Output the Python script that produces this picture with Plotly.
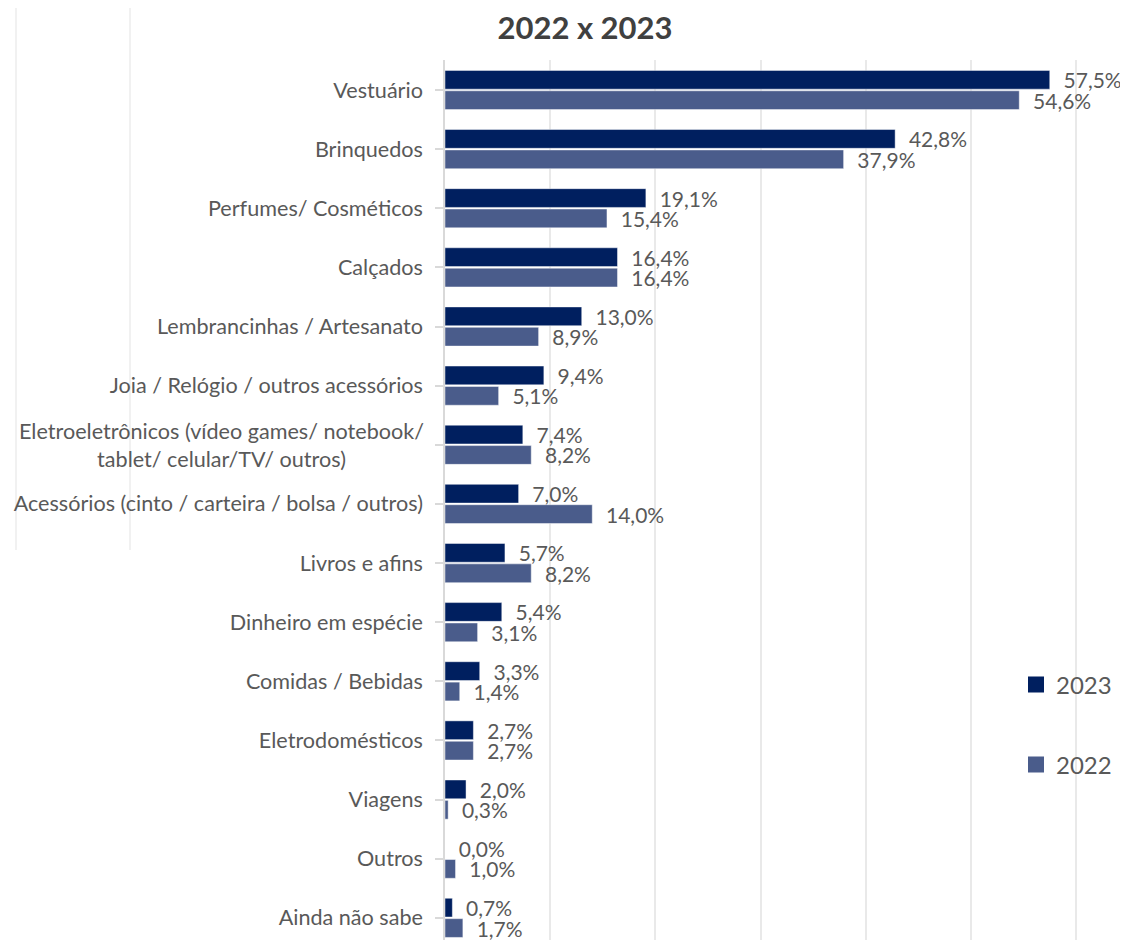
import plotly.graph_objects as go

categories = [
    "Vestuário",
    "Brinquedos",
    "Perfumes/ Cosméticos",
    "Calçados",
    "Lembrancinhas / Artesanato",
    "Joia / Relógio / outros acessórios",
    "Eletroeletrônicos (vídeo games/ notebook/<br>tablet/ celular/TV/ outros)",
    "Acessórios (cinto / carteira / bolsa / outros)",
    "Livros e afins",
    "Dinheiro em espécie",
    "Comidas / Bebidas",
    "Eletrodomésticos",
    "Viagens",
    "Outros",
    "Ainda não sabe",
]
values_2023 = [57.5, 42.8, 19.1, 16.4, 13.0, 9.4, 7.4, 7.0, 5.7, 5.4, 3.3, 2.7, 2.0, 0.0, 0.7]
values_2022 = [54.6, 37.9, 15.4, 16.4, 8.9, 5.1, 8.2, 14.0, 8.2, 3.1, 1.4, 2.7, 0.3, 1.0, 1.7]
series_names = ["2023", "2022"]
x_gridlines = [10, 20, 30, 40, 50, 60]

C2023 = "#001F5F"
C2022 = "#4A5C8B"
FONT = "Lato"
GREY = "#595959"

# page has an 8px body margin; coordinates below are figure pixels
L, R, T, B = 437, 0, 52, 0
W, H = 1128, 940
PW, PH = W - L - R, H - T - B

def fmt(v):
    return "\u00a0\u00a0" + f"{v:.1f}".replace(".", ",") + "%"

ids = list(range(len(categories)))
tick_text = [c if "<br>" not in c else "" for c in categories]

fig = go.Figure()
for name, vals, col in [(series_names[0], values_2023, C2023), (series_names[1], values_2022, C2022)]:
    fig.add_trace(go.Bar(
        y=ids, x=vals, orientation="h", name=name, showlegend=False,
        marker=dict(color=col, line=dict(color="rgba(255,255,255,0.45)", width=1)),
        text=[fmt(v) for v in vals], textposition="outside",
        textfont=dict(family=FONT, size=21, color=GREY), constraintext="none",
        cliponaxis=False,
    ))
# legend entries
fig.add_trace(go.Scatter(x=[None], y=[None], mode="markers", name=series_names[0],
                         marker=dict(symbol="square", size=16, color=C2023), legend="legend"))
fig.add_trace(go.Scatter(x=[None], y=[None], mode="markers", name=series_names[1],
                         marker=dict(symbol="square", size=16, color=C2022), legend="legend2"))

annotations = []
for i, c in enumerate(categories):
    if "<br>" in c:
        annotations.append(dict(
            x=0, xref="paper", xanchor="right", xshift=-19,
            y=i, yref="y", yanchor="middle", text=c, showarrow=False, align="center",
            font=dict(family=FONT, size=21.6, color=GREY),
        ))

def px_to_paper_x(px):
    return (px - L) / PW

def px_to_paper_y(py):
    return (H - B - py) / PH

shapes = []
for xp in [8, 122]:
    fx = px_to_paper_x(xp)
    shapes.append(dict(type="line", xref="paper", yref="paper", x0=fx, x1=fx,
                       y0=px_to_paper_y(0), y1=px_to_paper_y(542),
                       line=dict(color="#EDEDED", width=1.5), layer="below"))

fig.update_layout(
    width=W, height=H,
    margin=dict(l=L, r=R, t=T, b=B, autoexpand=False),
    paper_bgcolor="white", plot_bgcolor="white",
    barmode="group", bargap=0.31, bargroupgap=0.08,
    title=dict(text="<b>2022 x 2023</b>", x=577 / W, xanchor="center",
               y=1 - 20 / H, yanchor="middle", xref="container", yref="container",
               font=dict(family=FONT, size=31, color="#404040")),
    font=dict(family=FONT, color=GREY),
    xaxis=dict(range=[0, 65.7], showgrid=True, gridcolor="#E9E9E9", gridwidth=1.5,
               tickvals=x_gridlines, showticklabels=False, zeroline=False,
               showline=False, fixedrange=True),
    yaxis=dict(range=[14.51, -0.507], tickvals=ids, ticktext=tick_text,
               showline=True, linecolor="#D9D9D9", linewidth=1.5,
               ticks="outside", ticklen=8, tickcolor="#D9D9D9", tickwidth=1.5,
               showgrid=False, zeroline=False,
               tickfont=dict(family=FONT, size=21.6, color=GREY),
               ticklabelstandoff=8),
    legend=dict(x=px_to_paper_x(1008), xanchor="left",
                y=px_to_paper_y(677), yanchor="middle",
                font=dict(family=FONT, size=24, color=GREY), bgcolor="rgba(0,0,0,0)",
                itemwidth=30),
    legend2=dict(x=px_to_paper_x(1008), xanchor="left",
                 y=px_to_paper_y(757), yanchor="middle",
                 font=dict(family=FONT, size=24, color=GREY), bgcolor="rgba(0,0,0,0)",
                 itemwidth=30),
    annotations=annotations,
    shapes=shapes,
)

fig.write_html("out.html")
